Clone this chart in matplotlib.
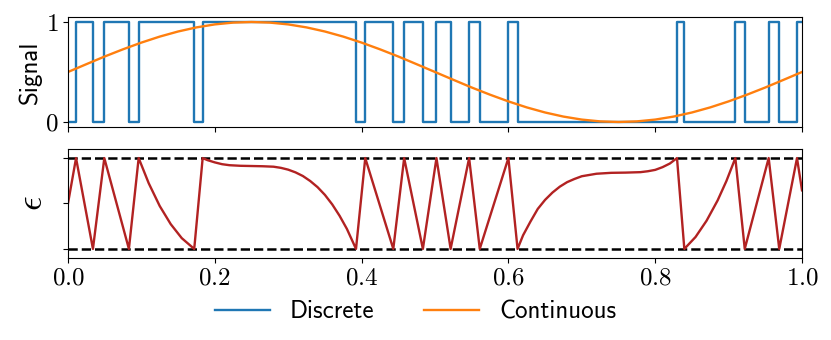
import matplotlib
matplotlib.use("Agg")
import matplotlib.pyplot as plt

plt.rcParams['mathtext.fontset'] = 'cm'
plt.rcParams['axes.formatter.use_mathtext'] = True

# discrete 1-bit signal: switch times and level after each switch
switch_t = [0.0, 0.011, 0.034, 0.0495, 0.083, 0.0963, 0.172, 0.1835, 0.3924,
            0.405, 0.4432, 0.458, 0.4835, 0.502, 0.5213, 0.5465, 0.561, 0.600,
            0.6125, 0.8297, 0.8397, 0.9092, 0.922, 0.9546, 0.969, 0.9932, 1.0]
levels = [0, 1, 0, 1, 0, 1, 0, 1, 0, 1, 0, 1, 0, 1, 0, 1, 0, 1, 0, 1, 0, 1,
          0, 1, 0, 1, 1]

# continuous signal, read every 0.025
cont_t = [i * 0.025 for i in range(41)]
cont_v = [0.5, 0.578, 0.655, 0.727, 0.794, 0.854, 0.905, 0.946, 0.976, 0.994,
          1.0, 0.994, 0.976, 0.946, 0.905, 0.854, 0.794, 0.727, 0.655, 0.578,
          0.5, 0.422, 0.345, 0.273, 0.206, 0.146, 0.095, 0.054, 0.024, 0.006,
          0.0, 0.006, 0.024, 0.054, 0.095, 0.146, 0.206, 0.273, 0.345, 0.422,
          0.5]

# error epsilon
eps_t = [0.0, 0.011, 0.034, 0.0495, 0.083, 0.0963, 0.11, 0.125, 0.14, 0.155,
         0.172, 0.1835, 0.19, 0.20, 0.21, 0.22, 0.235, 0.25, 0.265, 0.28, 0.29,
         0.30, 0.31, 0.32, 0.33, 0.34, 0.35, 0.36, 0.37, 0.38, 0.3924,
         0.405, 0.4432, 0.458, 0.4835, 0.502, 0.5213, 0.5465, 0.561, 0.600,
         0.6125, 0.62, 0.63, 0.64, 0.65, 0.66, 0.67, 0.68, 0.69, 0.70, 0.72,
         0.74, 0.76, 0.78, 0.79, 0.80, 0.81, 0.82, 0.8297,
         0.8397, 0.855, 0.87, 0.885, 0.897, 0.9092, 0.922, 0.9546, 0.969,
         0.9932, 1.0]
eps_v = [0.0, 1.0, -1.0, 1.0, -1.0, 1.0, 0.446, -0.056, -0.455, -0.763,
         -1.0, 1.0, 0.955, 0.905, 0.865, 0.843, 0.83, 0.825, 0.82, 0.81, 0.785,
         0.745, 0.685, 0.605, 0.495, 0.36, 0.19, -0.02, -0.27, -0.56, -1.0,
         1.0, -1.0, 1.0, -1.0, 1.0, -1.0, 1.0, -1.0, 1.0,
         -1.0, -0.70, -0.40, -0.12, 0.08, 0.24, 0.37, 0.47, 0.54, 0.60, 0.655,
         0.675, 0.68, 0.69, 0.71, 0.74, 0.80, 0.88, 1.0,
         -1.0, -0.737, -0.379, 0.066, 0.494, 1.0, -1.0, 1.0, -1.0,
         1.0, 0.29]

xticks = [0.0, 0.2, 0.4, 0.6, 0.8, 1.0]

fig = plt.figure(figsize=(8.31, 3.4), dpi=100)
ax1 = fig.add_axes([0.0818, 0.6265, 0.8833, 0.3235])
ax2 = fig.add_axes([0.0818, 0.2412, 0.8833, 0.3206])

ax1.step(switch_t, levels, where='post', color='tab:blue', lw=1.7, label='Discrete')
ax1.plot(cont_t, cont_v, color='tab:orange', lw=1.7, label='Continuous')
ax1.set_xlim(0, 1)
ax1.set_yticks([0, 1])
ax1.set_xticks(xticks)
ax1.tick_params(labelbottom=False, labelsize=18, labelfontfamily='cmr10')
ax1.set_ylabel('Signal', fontsize=18, family='cmss10', labelpad=2)

ax2.axhline(1, color='black', ls='--', lw=1.8)
ax2.axhline(-1, color='black', ls='--', lw=1.8)
ax2.plot(eps_t, eps_v, color='firebrick', lw=1.7)
ax2.set_xlim(0, 1)
ax2.set_ylim(-1.2, 1.2)
ax2.set_yticks([-1, 0, 1])
ax2.set_yticklabels([])
ax2.set_xticks(xticks)
ax2.tick_params(labelsize=18, labelfontfamily='cmr10')
ax2.set_ylabel(r'$\epsilon$', fontsize=26, labelpad=7)

h, l = ax1.get_legend_handles_labels()
fig.legend(h, l, loc='center', bbox_to_anchor=(0.5, 0.083), ncol=2,
           frameon=False, prop={'family': 'cmss10', 'size': 18},
           handlelength=2.2, handletextpad=0.8, columnspacing=2.0)

fig.savefig('out.png', dpi=100)
